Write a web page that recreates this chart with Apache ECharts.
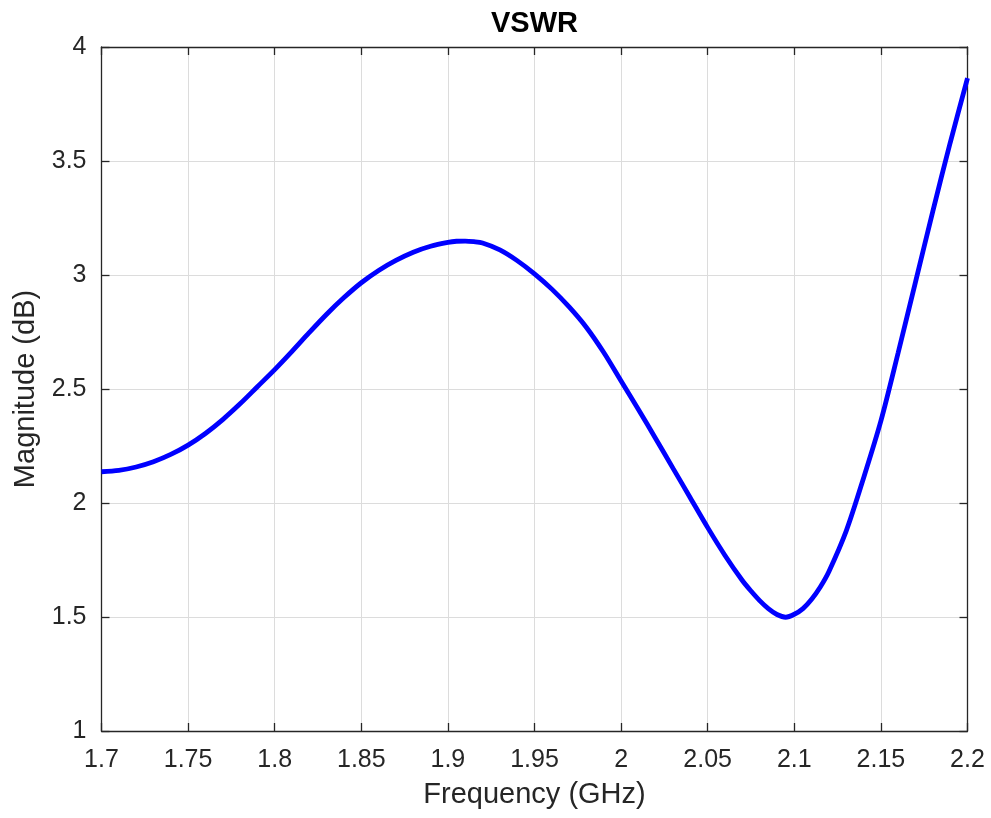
<!DOCTYPE html>
<html>
<head>
<meta charset="utf-8">
<script src="https://cdn.jsdelivr.net/npm/echarts@6/dist/echarts.min.js"></script>
<style>
html,body{margin:0;padding:0;background:#fff;}
#chart{width:991px;height:818px;}
</style>
</head>
<body>
<div id="chart"></div>
<script>
const frequency = [1.70, 1.71, 1.72, 1.73, 1.74, 1.75, 1.76, 1.77, 1.78, 1.79,
                   1.80, 1.81, 1.82, 1.83, 1.84, 1.85, 1.86, 1.87, 1.88, 1.89,
                   1.90, 1.905, 1.91, 1.915, 1.92, 1.93, 1.94, 1.95, 1.96, 1.97, 1.98, 1.99,
                   2.00, 2.01, 2.02, 2.03, 2.04, 2.05, 2.06, 2.07, 2.075, 2.08, 2.085, 2.09,
                   2.095, 2.10, 2.105, 2.11, 2.115, 2.12, 2.13, 2.14, 2.15, 2.16, 2.17, 2.18,
                   2.19, 2.20];
const magnitude = [2.137, 2.143, 2.158, 2.181, 2.213, 2.254, 2.305, 2.366, 2.435, 2.510,
                   2.585, 2.665, 2.748, 2.828, 2.901, 2.966, 3.020, 3.064, 3.100, 3.126,
                   3.143, 3.148, 3.149, 3.146, 3.140, 3.110, 3.063, 3.005, 2.938, 2.860, 2.770, 2.660,
                   2.535, 2.410, 2.282, 2.152, 2.022, 1.892, 1.770, 1.660, 1.614, 1.572, 1.537, 1.511,
                   1.499, 1.512, 1.537, 1.578, 1.632, 1.700, 1.878, 2.110, 2.360, 2.660, 2.970, 3.280,
                   3.580, 3.863];
const titleText = 'VSWR';
const xLabel = 'Frequency (GHz)';
const yLabel = 'Magnitude (dB)';

const points = frequency.map((f, i) => [f, magnitude[i]]);
const FONT = 'Liberation Sans, Arial, sans-serif';
const AX = '#262626';
const fmt = v => String(+v.toFixed(2));

const chart = echarts.init(document.getElementById('chart'), null, {renderer: 'canvas'});
chart.setOption({
  animation: false,
  backgroundColor: '#ffffff',
  title: {
    text: titleText, left: 486, top: 4,
    textStyle: {fontFamily: FONT, fontSize: 29, fontWeight: 'bold', color: '#000'}
  },
  grid: {left: 101.5, right: 23.5, top: 47, bottom: 87, containLabel: false},
  xAxis: [{
    type: 'value', min: 1.7, max: 2.2, interval: 0.05,
    name: xLabel, nameLocation: 'middle', nameGap: 49,
    nameTextStyle: {fontFamily: FONT, fontSize: 29, color: AX},
    axisLine: {show: true, onZero: false, lineStyle: {color: AX, width: 1.3}},
    axisTick: {show: true, inside: true, length: 8, lineStyle: {color: AX, width: 1.3}},
    axisLabel: {fontFamily: FONT, fontSize: 25, color: AX, margin: 17, formatter: fmt},
    splitLine: {show: true, lineStyle: {color: '#dcdcdc', width: 1}}
  }, {
    type: 'value', position: 'top', min: 1.7, max: 2.2, interval: 0.05,
    axisLine: {show: true, onZero: false, lineStyle: {color: AX, width: 1.3}},
    axisTick: {show: true, inside: true, length: 8, lineStyle: {color: AX, width: 1.3}},
    axisLabel: {show: false}, splitLine: {show: false}
  }],
  yAxis: [{
    type: 'value', min: 1, max: 4, interval: 0.5,
    name: yLabel, nameLocation: 'middle', nameGap: 60,
    nameTextStyle: {fontFamily: FONT, fontSize: 29, color: AX},
    axisLine: {show: true, onZero: false, lineStyle: {color: AX, width: 1.3}},
    axisTick: {show: true, inside: true, length: 8, lineStyle: {color: AX, width: 1.3}},
    axisLabel: {fontFamily: FONT, fontSize: 25, color: AX, margin: 15, padding: [7, 0, 0, 0], formatter: fmt},
    splitLine: {show: true, lineStyle: {color: '#dcdcdc', width: 1}}
  }, {
    type: 'value', position: 'right', min: 1, max: 4, interval: 0.5,
    axisLine: {show: true, onZero: false, lineStyle: {color: AX, width: 1.3}},
    axisTick: {show: true, inside: true, length: 8, lineStyle: {color: AX, width: 1.3}},
    axisLabel: {show: false}, splitLine: {show: false}
  }],
  series: [{
    type: 'line', xAxisIndex: 0, yAxisIndex: 0,
    data: points, smooth: 0.3, showSymbol: false,
    lineStyle: {color: '#0000ff', width: 4.8}
  }]
});
</script>
</body>
</html>
